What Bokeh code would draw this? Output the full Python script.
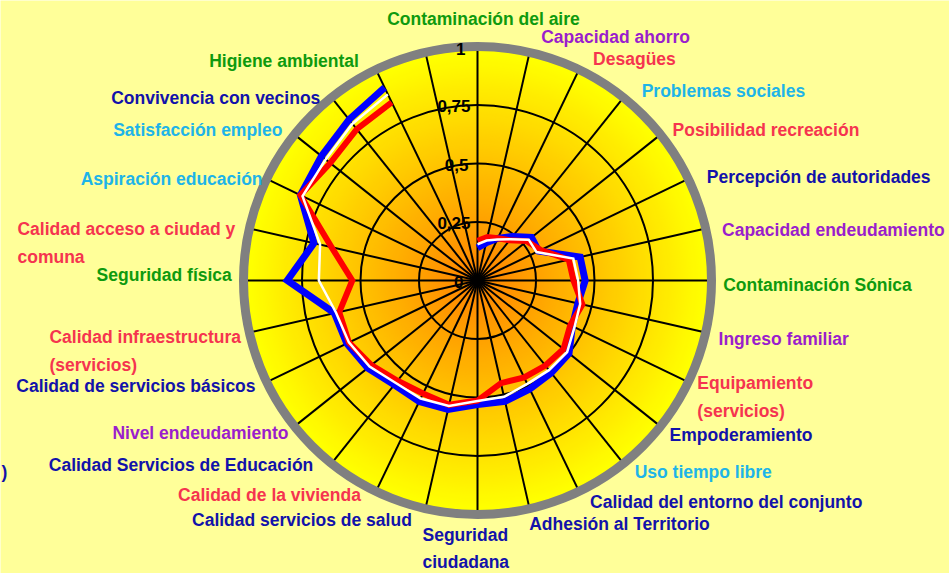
import numpy as np
from bokeh.plotting import figure
from bokeh.models import Range1d, ColumnDataSource, Label
from bokeh.core.properties import value
from bokeh.embed import file_html
from bokeh.resources import INLINE

# ---------------- data ----------------
categorias = [
    "Contaminación del aire", "Capacidad ahorro", "Desagües", "Problemas sociales",
    "Posibilidad recreación", "Percepción de autoridades", "Capacidad endeudamiento",
    "Contaminación Sónica", "Ingreso familiar", "Equipamiento\n (servicios)",
    "Empoderamiento", "Uso tiempo libre", "Calidad del entorno del conjunto",
    "Adhesión al Territorio", "Seguridad\nciudadana", "Calidad servicios de salud",
    "Calidad de la vivienda", "Calidad Servicios de Educación", "Nivel endeudamiento",
    "Calidad de servicios básicos", "Calidad infraestructura\n(servicios)",
    "Seguridad física", "Calidad acceso a ciudad y\ncomuna", "Aspiración educación",
    "Satisfacción empleo", "Convivencia con vecinos", "Higiene ambiental", "",
]

serie_roja = [0.17, 0.19, 0.20, 0.22, 0.27, 0.30, 0.40, 0.41, 0.46, 0.44, 0.47, 0.465,
              0.46, 0.45, 0.513, 0.545, 0.536, 0.548, 0.58, 0.61, 0.606, 0.535, 0.64,
              0.84, 0.805, 0.827, 0.845, None]
serie_azul = [0.14, 0.165, 0.20, 0.24, 0.295, 0.29, 0.45, 0.46, 0.44, 0.45, 0.50, 0.505,
              0.515, 0.53, 0.53, 0.565, 0.574, 0.57, 0.60, 0.62, 0.627, 0.813, 0.717,
              0.84, 0.853, 0.88, 0.915, None]
serie_blanca = [0.155, 0.175, 0.195, 0.225, 0.28, 0.28, 0.42, 0.43, 0.45, 0.46, 0.49, 0.49,
                0.49, 0.51, 0.515, 0.55, 0.56, 0.56, 0.59, 0.61, 0.62, 0.678, 0.69,
                0.83, 0.83, 0.857, 0.883, None]

valores_eje = [0, 0.25, 0.5, 0.75, 1]
etiquetas_eje = ["0", "0,25", "0,5", "0,75", "1"]

# ---------------- styles / layout ----------------
VERDE, MORADO, ROJO, CIAN, AZUL = "#0E9A0E", "#9A1ECC", "#F5344F", "#1EB4E8", "#1212AA"
colores_etiquetas = [VERDE, MORADO, ROJO, CIAN, ROJO, AZUL, MORADO, VERDE, MORADO, ROJO,
                     AZUL, CIAN, AZUL, AZUL, AZUL, AZUL, ROJO, AZUL, MORADO, AZUL, ROJO,
                     VERDE, ROJO, CIAN, CIAN, AZUL, VERDE, AZUL]
alineacion = ["center"] + ["left"] * 14 + ["right"] * 5 + ["left", "right", "left"] + ["right"] * 4 + ["left"]
desplaz = [(6, -16), (9, -3.5), (9, 0), (11, 3), (3, 3), (8, 3), (5, 4), (0, 4), (1.5, 4),
           (-1.5, 10), (0, 1), (4, -1), (6, 0), (-3, 3.5), (-55, 22), (-11, -0.5), (-10, -7),
           (-11, -8), (3, -1), (-0.6, -1.6), (-188.5, 16), (0, -6), (-220.5, 17), (6.4, 5.6),
           (-3, 3), (-4, 10), (-12, 1.4), (0, 0)]
desplaz_eje = [-14, -7, -9, -7, -12]
FUENTE = "Liberation Sans"

W, H = 949, 573
ESC = 234.0          # px per unit radius
CX, CY = 477, 280    # centre in figure pixels

p = figure(width=W, height=H, output_backend="svg", toolbar_location=None,
           x_range=Range1d(-CX / ESC, (W - CX) / ESC),
           y_range=Range1d(-(H - CY) / ESC, CY / ESC),
           x_axis_location=None, y_axis_location=None, min_border=0)
p.grid.visible = False
p.outline_line_color = None
p.background_fill_color = "#FFFF99"
p.border_fill_color = "#FFFF99"

n = len(categorias)
ang = np.arange(n) * 2 * np.pi / n
sx, sy = np.sin(ang), np.cos(ang)

# radial gradient disc
radios = np.linspace(1.0, 0.005, 140)
cols = []
for r in radios:
    g = int(round(128 + 127 * min(1.0, r / 0.97)))
    cols.append("#%02X%02X%02X" % (255, g, 0))
p.circle(x=np.zeros(len(radios)), y=np.zeros(len(radios)), radius=radios,
         fill_color=cols, line_color=None)

# spokes
p.segment(x0=np.zeros(n), y0=np.zeros(n), x1=sx, y1=sy, line_color="black", line_width=2)
# rings
p.circle(x=[0, 0, 0], y=[0, 0, 0], radius=valores_eje[1:4], fill_color=None,
         line_color="black", line_width=2)
p.circle(x=[0], y=[0], radius=[1.0], fill_color=None, line_color="#808080", line_width=9)

# series
def xy(vals):
    v = np.array([np.nan if a is None else a for a in vals], dtype=float)
    return v * sx, v * sy

for vals, col, lw in [(serie_azul, "#0000FF", 7), (serie_roja, "#FF0000", 6),
                      (serie_blanca, "#FFFFFF", 2.5)]:
    x, y = xy(vals)
    p.line(x, y, line_color=col, line_width=lw, line_join="miter")

# axis tick labels
p.text(x=np.zeros(len(valores_eje)), y=valores_eje, text=etiquetas_eje,
       x_offset=desplaz_eje, y_offset=[1, 1, 1, 1, 2],
       text_align="right", text_baseline="middle", text_color="black",
       text_font=value(FUENTE), text_font_style="bold", text_font_size="17px")

# category labels
RL = 1.05
src = ColumnDataSource(dict(
    x=RL * sx, y=RL * sy, t=categorias, c=colores_etiquetas, a=alineacion,
    dx=[d[0] for d in desplaz], dy=[d[1] for d in desplaz]))
p.text(x="x", y="y", text="t", text_color="c", text_align="a", x_offset="dx", y_offset="dy",
       text_baseline="middle", text_font=value(FUENTE), text_font_style="bold",
       text_font_size="17.5px", text_line_height=1.37, source=src)

# fragment of a cut-off label at the left edge
p.add_layout(Label(x=1, y=H - 471, x_units="screen", y_units="screen", text=")",
                   text_color=AZUL, text_font=FUENTE, text_font_style="bold",
                   text_font_size="17.5px", text_baseline="middle"))

open("out.html", "w").write(file_html(p, INLINE))
